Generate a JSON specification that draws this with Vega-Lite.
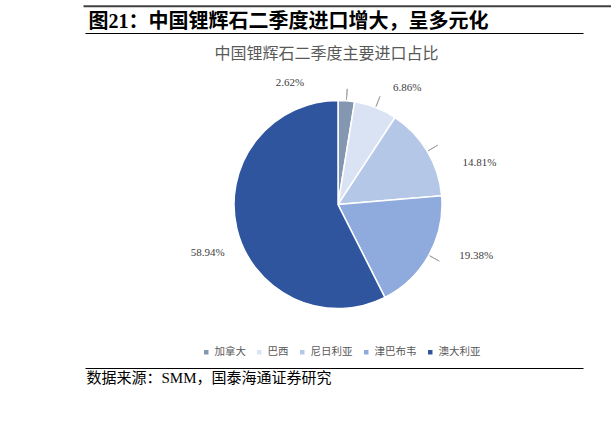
{
  "$schema": "https://vega.github.io/schema/vega-lite/v6.json",
  "autosize": "none",
  "padding": {"left": 85, "top": 33, "right": 28, "bottom": 59},
  "width": 498,
  "height": 335,
  "background": "#ffffff",
  "config": {"view": {"stroke": null}},
  "data": {
    "values": [
      {"country": "加拿大", "share": 0.0262},
      {"country": "巴西", "share": 0.0686},
      {"country": "尼日利亚", "share": 0.1481},
      {"country": "津巴布韦", "share": 0.1938},
      {"country": "澳大利亚", "share": 0.5894}
    ]
  },
  "resolve": {"scale": {"x": "independent"}, "axis": {"x": "independent", "y": "independent"}},
  "layer": [
    {
      "mark": {"type": "arc", "outerRadius": 104, "stroke": "#ffffff", "strokeWidth": 1.5},
      "encoding": {
        "theta": {"field": "share", "type": "quantitative", "stack": true},
        "order": {"field": "share", "sort": "ascending"},
        "color": {
          "field": "country", "type": "nominal",
          "scale": {"domain": ["加拿大", "巴西", "尼日利亚", "津巴布韦", "澳大利亚"], "range": ["#8497B0", "#DAE3F3", "#B4C7E7", "#8FAADC", "#2F559F"]},
          "legend": {"orient": "none", "legendX": 116, "legendY": 314, "direction": "horizontal", "gridAlign": "none", "title": null, "symbolType": "square", "symbolSize": 20, "symbolStrokeWidth": 0, "labelFont": "Noto Sans CJK SC", "labelFontSize": 10.5, "labelColor": "#595959", "columnPadding": 8, "labelOffset": 3, "padding": 0}
        },
        "x": {"datum": 0, "type": "quantitative", "scale": {"domain": [-253, 245], "nice": false, "zero": false},
          "axis": {"orient": "bottom", "domain": true, "domainColor": "#000000", "domainWidth": 1, "ticks": false, "labels": false, "grid": false,
            "title": "数据来源：SMM，国泰海通证券研究", "titleX": 1, "titleY": 9, "titleAlign": "left", "titleBaseline": "middle", "titleAngle": 0,
            "titleFont": "Liberation Serif, Noto Sans CJK SC", "titleFontSize": 15, "titleFontWeight": "normal", "titleColor": "#000000"}},
        "y": {"datum": 0, "type": "quantitative", "scale": {"domain": [-163.5, 171.5], "nice": false, "zero": false},
          "axis": {"orient": "left", "domain": false, "ticks": false, "labels": false, "grid": false,
            "title": "中国锂辉石二季度主要进口占比", "titleAngle": 0, "titleX": 241, "titleY": 20, "titleAlign": "center", "titleBaseline": "middle",
            "titleFont": "Noto Sans CJK SC", "titleFontSize": 16, "titleFontWeight": "normal", "titleColor": "#595959"}}
      }
    },
    {
      "mark": {"type": "arc", "innerRadius": 105, "outerRadius": 116, "padAngle": 3, "fillOpacity": 0, "stroke": "#a6a6a6", "strokeWidth": 1},
      "encoding": {
        "theta": {"field": "share", "type": "quantitative", "stack": true},
        "order": {"field": "share", "sort": "ascending"},
        "strokeOpacity": {"condition": {"test": "datum.country === '澳大利亚'", "value": 0}, "value": 1},
        "x": {"datum": 0, "type": "quantitative", "scale": {"domain": [-253, 245], "nice": false, "zero": false},
          "axis": {"orient": "top", "domain": true, "domainColor": "#000000", "domainWidth": 1, "ticks": false, "labels": false, "grid": false,
            "title": "图21：中国锂辉石二季度进口增大，呈多元化", "titleX": 3, "titleY": -11.5, "titleAlign": "left", "titleBaseline": "middle", "titleAngle": 0,
            "titleFont": "Liberation Serif, Noto Sans CJK SC", "titleFontSize": 20, "titleFontWeight": "bold", "titleColor": "#000000"}},
        "y": {"datum": 0, "type": "quantitative", "scale": {"domain": [-163.5, 171.5], "nice": false, "zero": false}, "axis": null}
      }
    },
    {
      "mark": {"type": "text", "font": "Liberation Serif", "fontSize": 11, "fill": "#404040", "align": "center", "baseline": "middle", "dx": -58, "dy": 3},
      "encoding": {
        "theta": {"field": "share", "type": "quantitative", "stack": true},
        "order": {"field": "share", "sort": "ascending"},
        "radius": {"value": 125},
        "text": {"condition": {"test": "datum.country === '加拿大'", "field": "share", "type": "quantitative", "format": ".2%"}, "value": ""},
        "x": {"datum": 0, "type": "quantitative", "scale": {"domain": [-255, 273], "range": [-2, 526], "nice": false, "zero": false},
          "axis": {"orient": "top", "offset": 27.3, "domain": true, "domainColor": "#404040", "domainWidth": 2, "ticks": false, "labels": false, "grid": false, "title": null}},
        "y": {"datum": 0, "type": "quantitative", "scale": {"domain": [-163.5, 171.5], "nice": false, "zero": false}, "axis": null}
      }
    },
    {
      "mark": {"type": "text", "font": "Liberation Serif", "fontSize": 11, "fill": "#404040", "align": "center", "baseline": "middle", "dx": 24, "dy": 0},
      "encoding": {
        "theta": {"field": "share", "type": "quantitative", "stack": true},
        "order": {"field": "share", "sort": "ascending"},
        "radius": {"value": 125},
        "text": {"condition": {"test": "datum.country === '巴西'", "field": "share", "type": "quantitative", "format": ".2%"}, "value": ""},
        "x": {"datum": 0, "type": "quantitative", "scale": {"domain": [-253, 245], "nice": false, "zero": false}, "axis": null},
        "y": {"datum": 0, "type": "quantitative", "scale": {"domain": [-163.5, 171.5], "nice": false, "zero": false}, "axis": null}
      }
    },
    {
      "mark": {"type": "text", "font": "Liberation Serif", "fontSize": 11, "fill": "#404040", "align": "center", "baseline": "middle", "dx": 34, "dy": 22},
      "encoding": {
        "theta": {"field": "share", "type": "quantitative", "stack": true},
        "order": {"field": "share", "sort": "ascending"},
        "radius": {"value": 125},
        "text": {"condition": {"test": "datum.country === '尼日利亚'", "field": "share", "type": "quantitative", "format": ".2%"}, "value": ""},
        "x": {"datum": 0, "type": "quantitative", "scale": {"domain": [-253, 245], "nice": false, "zero": false}, "axis": null},
        "y": {"datum": 0, "type": "quantitative", "scale": {"domain": [-163.5, 171.5], "nice": false, "zero": false}, "axis": null}
      }
    },
    {
      "mark": {"type": "text", "font": "Liberation Serif", "fontSize": 11, "fill": "#404040", "align": "center", "baseline": "middle", "dx": 29, "dy": -9.5},
      "encoding": {
        "theta": {"field": "share", "type": "quantitative", "stack": true},
        "order": {"field": "share", "sort": "ascending"},
        "radius": {"value": 125},
        "text": {"condition": {"test": "datum.country === '津巴布韦'", "field": "share", "type": "quantitative", "format": ".2%"}, "value": ""},
        "x": {"datum": 0, "type": "quantitative", "scale": {"domain": [-253, 245], "nice": false, "zero": false}, "axis": null},
        "y": {"datum": 0, "type": "quantitative", "scale": {"domain": [-163.5, 171.5], "nice": false, "zero": false}, "axis": null}
      }
    },
    {
      "mark": {"type": "text", "font": "Liberation Serif", "fontSize": 11, "fill": "#404040", "align": "center", "baseline": "middle", "dx": -8.6, "dy": 19.8},
      "encoding": {
        "theta": {"field": "share", "type": "quantitative", "stack": true},
        "order": {"field": "share", "sort": "ascending"},
        "radius": {"value": 125},
        "text": {"condition": {"test": "datum.country === '澳大利亚'", "field": "share", "type": "quantitative", "format": ".2%"}, "value": ""},
        "x": {"datum": 0, "type": "quantitative", "scale": {"domain": [-253, 245], "nice": false, "zero": false}, "axis": null},
        "y": {"datum": 0, "type": "quantitative", "scale": {"domain": [-163.5, 171.5], "nice": false, "zero": false}, "axis": null}
      }
    }
  ]
}
